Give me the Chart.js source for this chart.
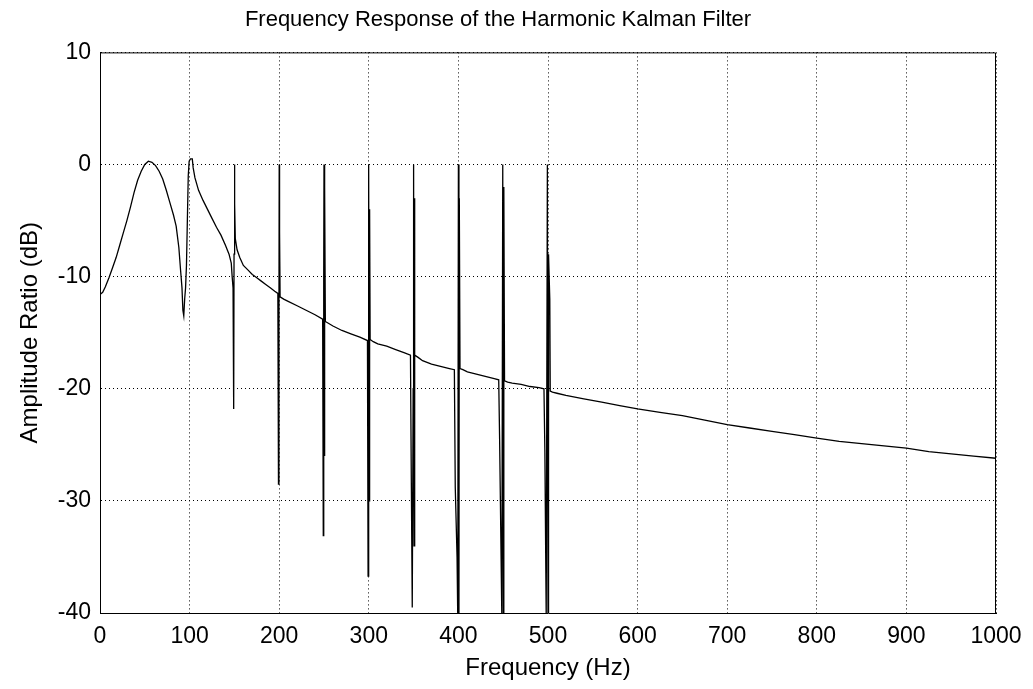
<!DOCTYPE html>
<html>
<head>
<meta charset="utf-8">
<script src="https://cdn.jsdelivr.net/npm/chart.js@4/dist/chart.umd.min.js"></script>
<style>
  body { margin: 0; background: #fff; }
</style>
</head>
<body>
<canvas id="grafica1" width="1033" height="689"></canvas>
<script>
// values (Hz, dB)
const freqHz = [
  0, 3, 6, 10, 14, 18, 22, 26, 30, 34, 38, 42, 46, 50, 54, 58, 62, 66, 70, 74, 78, 82, 85, 88, 90,
  91.5, 92.5, 93.5, 94.5, 95.5, 96.5, 97.5, 98.5, 99.5, 101, 103, 104, 106, 110, 115, 120, 125, 130,
  135, 140, 144, 146.5, 147.5, 148.5, 149.2, 149.6, 150, 150.5, 151, 153, 156, 160, 165, 170, 175,
  180, 185, 190, 195, 198.5, 199.2, 199.7, 200, 200.4, 201, 205, 210, 220, 230, 240,
  248.5, 249.2, 249.7, 250, 250.5, 250.9, 251.5, 260, 270, 280, 290,
  298.5, 299.2, 299.7, 300, 300.5, 300.9, 301.5, 305, 310, 320, 330, 340,
  346.5, 347.5, 348.5, 349.5, 350, 350.5, 350.9, 351.5, 355, 360, 370, 380, 390,
  395.5, 396.5, 398.5, 399.3, 400, 400.6, 401, 401.8, 405, 410, 420, 430, 440,
  445, 446, 448.5, 449.5, 450.2, 450.7, 451.5, 455, 460, 470, 480, 490,
  495.5, 496.5, 498, 499.3, 500, 500.6, 502, 502.5, 505, 510, 520, 540, 560,
  580, 600, 625, 650, 675, 700, 725, 750, 775, 800, 825, 850, 875, 900, 925, 950, 975, 1000
];
const ampDb = [
  -11.6, -11.4, -10.9, -10.1, -9.2, -8.3, -7.2, -6.1, -5.0, -3.8, -2.5, -1.4, -0.6, 0.0, 0.3, 0.2, -0.1, -0.6, -1.3, -2.3, -3.4, -4.5, -5.5, -7.4, -9.5,
  -11.0, -13.0, -13.5, -12.0, -11.0, -9.0, -5.0, -1.0, 0.3, 0.5, 0.5, -0.3, -1.2, -2.3, -3.2, -4.0, -4.8, -5.6,
  -6.3, -7.2, -8.0, -8.8, -10.0, -11.0, -21.8, -8, 0, -3.5, -6.6, -7.6, -8.3, -9.0, -9.4, -9.8, -10.1,
  -10.4, -10.7, -11.0, -11.3, -11.5, -28.5, -15, 0, -6, -11.8, -12.0, -12.2, -12.6, -13.0, -13.4,
  -13.8, -33.1, -10, 0, -26, -2, -14.0, -14.4, -14.8, -15.1, -15.4,
  -15.7, -36.7, -15, 0, -30, -4, -15.6, -15.8, -16.0, -16.2, -16.5, -16.8,
  -17.0, -28.7, -39.5, -20, 0, -34, -3, -17.0, -17.2, -17.5, -17.8, -18.0, -18.2,
  -18.3, -28.8, -35, -40.5, 0, -40.5, -3, -18.2, -18.3, -18.5, -18.7, -18.9, -19.1,
  -19.2, -24.5, -40.5, 0, -40.5, -2, -19.3, -19.4, -19.5, -19.6, -19.8, -19.9,
  -20.0, -25.5, -40.5, 0, -40.5, -8, -12, -20.2, -20.3, -20.4, -20.6, -20.9, -21.2,
  -21.5, -21.8, -22.1, -22.4, -22.8, -23.2, -23.5, -23.8, -24.1, -24.4, -24.7, -24.9, -25.1, -25.3, -25.6, -25.8, -26.0, -26.2
];
const xTicks = [0, 100, 200, 300, 400, 500, 600, 700, 800, 900, 1000];
const yTicks = [-40, -30, -20, -10, 0, 10];

const puntos = freqHz.map((f, i) => ({ x: f, y: ampDb[i] }));

// marco superior y derecho del grafico
const marco = {
  id: 'marco',
  afterDatasetsDraw(chart) {
    const { ctx, chartArea: a } = chart;
    ctx.save();
    ctx.strokeStyle = '#000';
    ctx.lineWidth = 1;
    ctx.beginPath();
    ctx.moveTo(a.left, a.top + 0.5);
    ctx.lineTo(a.right - 0.5, a.top + 0.5);
    ctx.lineTo(a.right - 0.5, a.bottom);
    ctx.stroke();
    ctx.restore();
  }
};

const fuente = "'Liberation Sans', Arial, sans-serif";
const grafica1 = document.getElementById('grafica1').getContext('2d');
const grafica = new Chart(grafica1, {
  type: 'line',
  data: {
    datasets: [{
      label: 'Amplitude Ratio',
      data: puntos,
      borderColor: '#000',
      borderWidth: 1.3,
      pointRadius: 0,
      tension: 0,
      fill: false
    }]
  },
  options: {
    responsive: false,
    animation: false,
    layout: { padding: { left: 0, top: 0, right: 37, bottom: 0 } },
    plugins: {
      legend: { display: false },
      tooltip: { enabled: false },
      title: {
        display: true,
        text: 'Frequency Response of the Harmonic Kalman Filter',
        color: '#000',
        font: { family: fuente, size: 22, weight: 'normal' },
        padding: { top: 7, bottom: 19 }
      }
    },
    scales: {
      x: {
        type: 'linear',
        min: 0,
        max: 1000,
        afterFit: s => { s.height = 76; },
        afterBuildTicks: s => { s.ticks = xTicks.map(v => ({ value: v })); },
        ticks: {
          color: '#000', padding: 10, maxRotation: 0,
          font: { family: fuente, size: 23 },
          callback: v => String(v)
        },
        grid: { color: '#000', lineWidth: 1, drawTicks: false },
        border: { color: '#000', width: 1, dash: [1, 3] },
        title: {
          display: true,
          text: 'Frequency (Hz)',
          color: '#000',
          font: { family: fuente, size: 24 },
          padding: { top: 4, bottom: 6 }
        }
      },
      y: {
        min: -40,
        max: 10,
        afterFit: s => { s.width = 100; },
        afterBuildTicks: s => { s.ticks = yTicks.map(v => ({ value: v })); },
        ticks: {
          color: '#000', padding: 9,
          font: { family: fuente, size: 23 },
          callback: v => String(v)
        },
        grid: { color: '#000', lineWidth: 1, drawTicks: false },
        border: { color: '#000', width: 1, dash: [1, 3] },
        title: {
          display: true,
          text: 'Amplitude Ratio (dB)',
          color: '#000',
          font: { family: fuente, size: 24 },
          padding: { top: 16, bottom: 4 }
        }
      }
    }
  },
  plugins: [marco]
});
</script>
</body>
</html>
